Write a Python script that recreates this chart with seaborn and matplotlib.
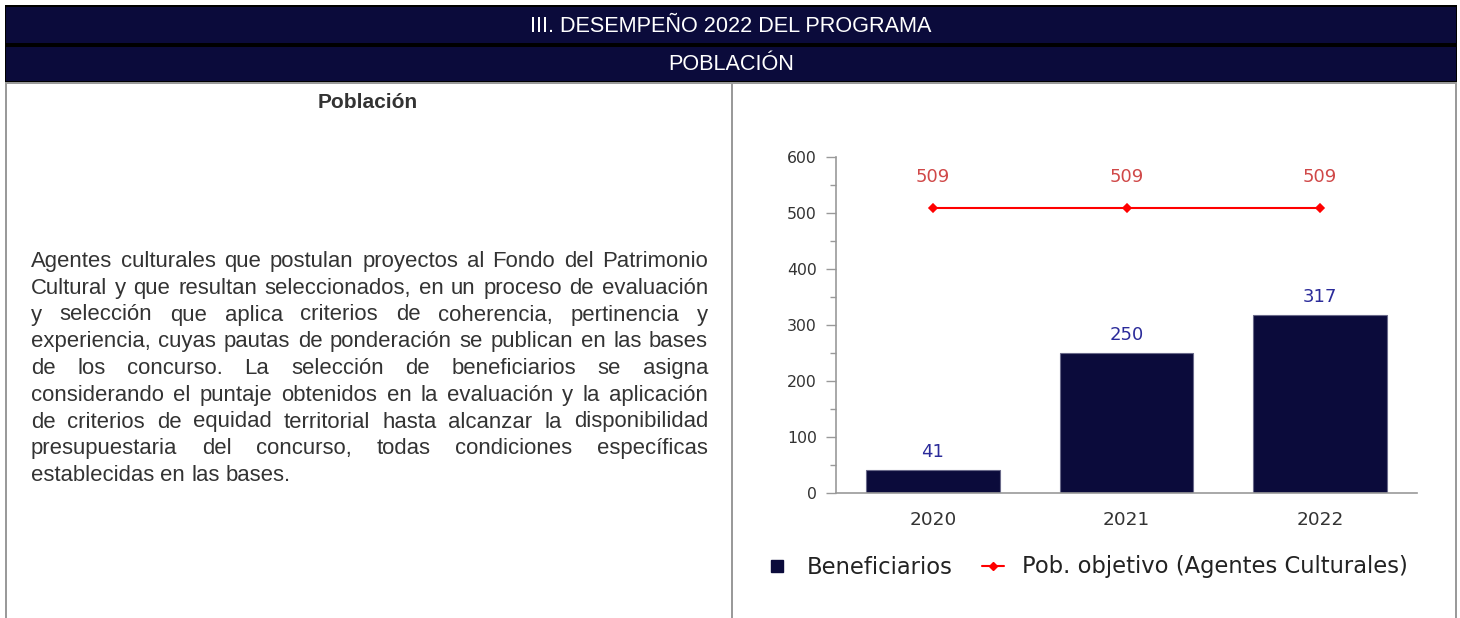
import pandas as pd
import matplotlib
matplotlib.use("Agg")
import matplotlib.pyplot as plt
from matplotlib.patches import Rectangle
from matplotlib.lines import Line2D
import seaborn as sns

# data
years = ["2020", "2021", "2022"]
beneficiarios = [41, 250, 317]
pob_objetivo = [509, 509, 509]
series_names = ["Beneficiarios", "Pob. objetivo (Agentes Culturales)"]

header_1 = "III. DESEMPEÑO 2022 DEL PROGRAMA"
header_2 = "POBLACIÓN"
panel_title = "Población"
body_lines = [
    "Agentes culturales que postulan proyectos al Fondo del Patrimonio",
    "Cultural y que resultan seleccionados, en un proceso de evaluación",
    "y selección que aplica criterios de coherencia, pertinencia y",
    "experiencia, cuyas pautas de ponderación se publican en las bases",
    "de los concurso. La selección de beneficiarios se asigna",
    "considerando el puntaje obtenidos en la evaluación y la aplicación",
    "de criterios de equidad territorial hasta alcanzar la disponibilidad",
    "presupuestaria del concurso, todas condiciones específicas",
    "establecidas en las bases.",
]

NAVY = "#0b0b3b"
W, H = 1460, 618

sns.set_theme(style="white")
plt.rcParams["font.family"] = ["DejaVu Sans"]

fig = plt.figure(figsize=(W / 100, H / 100), dpi=100)


def fx(x):
    return x / W


def fy(y):
    return 1 - y / H


def rect(x0, y0, x1, y1, color):
    fig.patches.append(Rectangle((fx(x0), fy(y1)), fx(x1) - fx(x0), fy(y0) - fy(y1),
                                 transform=fig.transFigure, color=color, lw=0, zorder=0))


# header bars
rect(5, 5, 1457, 84, "#000000")
rect(6, 7, 1456, 43, NAVY)
rect(6, 47, 1456, 81, NAVY)
rect(5, 82, 1457, 84, "#9a9a9a")
# panel borders
rect(5, 84, 7, 618, "#9a9a9a")
rect(731, 84, 733, 618, "#9a9a9a")
rect(1455, 84, 1457, 618, "#9a9a9a")

head_font = dict(family="Liberation Sans", color="white", fontsize=15.6, ha="center", va="center")
fig.text(fx(731), fy(26), header_1, **head_font)
fig.text(fx(731), fy(64), header_2, **head_font)
fig.text(fx(368), fy(103), panel_title, family="Liberation Sans", fontweight="bold",
         fontsize=15, color="#333333", ha="center", va="center")

# justified body text
renderer = fig.canvas.get_renderer()
body_font = dict(family="Liberation Sans", fontsize=15.9, color="#333333", va="baseline")
x_left, x_right = 31, 708
base0, step = 267, 26.75


def text_width(s):
    t = fig.text(0, 0, s, **body_font)
    w = t.get_window_extent(renderer).width
    t.remove()
    return w


space_w = text_width("a a") - text_width("aa")
for i, line in enumerate(body_lines):
    words = line.split()
    widths = [text_width(w) for w in words]
    y = base0 + i * step
    if i == len(body_lines) - 1:
        gap = space_w
    else:
        gap = (x_right - x_left - sum(widths)) / (len(words) - 1)
    x = x_left
    for w, wd in zip(words, widths):
        fig.text(fx(x), fy(y), w, **body_font)
        x += wd + gap

# chart
ax = fig.add_axes([fx(836), fy(493), fx(1417) - fx(836), fy(157) - fy(493)])
df = pd.DataFrame({"year": years, "ben": beneficiarios, "pob": pob_objetivo})
sns.barplot(data=df, x="year", y="ben", color=NAVY, saturation=1, width=0.69,
            edgecolor="#6a6a8a", linewidth=0.8, ax=ax, zorder=2)
sns.pointplot(data=df, x="year", y="pob", color="#ff0000", markers="D",
              markersize=4.5, linewidth=1.5, ax=ax, zorder=3)

for i, v in enumerate(beneficiarios):
    ax.annotate(str(v), (i, v), xytext=(0, 13.2), textcoords="offset points",
                ha="center", va="center", fontsize=13, color="#2b2b9a")
for i, v in enumerate(pob_objetivo):
    ax.annotate(str(v), (i, v), xytext=(0, 22.5), textcoords="offset points",
                ha="center", va="center", fontsize=13, color="#d04848")

ax.set_xlim(-0.5, 2.5)
ax.set_ylim(0, 600)
ax.set_yticks(range(0, 601, 100))
ax.set_yticks(range(50, 600, 100), minor=True)
ax.set_xlabel("")
ax.set_ylabel("")
for s in ["top", "right"]:
    ax.spines[s].set_visible(False)
for s in ["left", "bottom"]:
    ax.spines[s].set_color("#999999")
    ax.spines[s].set_linewidth(1.2)
ax.tick_params(axis="y", which="major", length=7.2, width=1, color="#999999",
               labelsize=11.3, labelcolor="#333333", pad=6.5, left=True)
ax.tick_params(axis="y", which="minor", length=4.3, width=1, color="#999999", left=True)
ax.tick_params(axis="x", length=0, labelsize=13.3, labelcolor="#333333", pad=13)

handles = [
    Line2D([], [], marker="s", color=NAVY, linestyle="none", markersize=8.5),
    Line2D([], [], marker="D", color="#ff0000", linewidth=1.5, markersize=4),
]
fig.legend(handles, series_names, loc="center", bbox_to_anchor=(fx(1087), fy(567)),
           ncol=2, frameon=False, fontsize=16.3, handlelength=1.0, handletextpad=0.8,
           columnspacing=1.3, labelcolor="#222222")

fig.savefig("out.png", dpi=100)
